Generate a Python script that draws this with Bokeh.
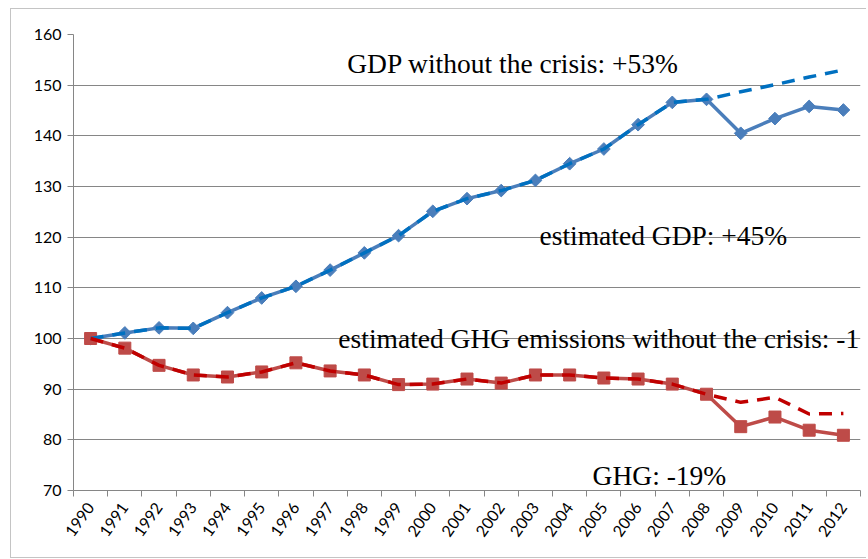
import math
from bokeh.plotting import figure
from bokeh.models import Range1d, FixedTicker, ColumnDataSource
from bokeh.core.properties import value
from bokeh.embed import file_html
from bokeh.resources import INLINE

# ---------------- data ----------------
years = [1990, 1991, 1992, 1993, 1994, 1995, 1996, 1997, 1998, 1999, 2000, 2001,
         2002, 2003, 2004, 2005, 2006, 2007, 2008, 2009, 2010, 2011, 2012]
year_labels = ["1990", "1991", "1992", "1993", "1994", "1995", "1996", "1997",
               "1998", "1999", "2000", "2001", "2002", "2003", "2004", "2005",
               "2006", "2007", "2008", "2009", "2010", "2011", "2012"]
gdp = [100.0, 101.1, 102.1, 102.0, 105.1, 108.0, 110.3, 113.5, 116.9, 120.3,
       125.1, 127.6, 129.2, 131.2, 134.5, 137.4, 142.2, 146.6, 147.2, 140.5,
       143.4, 145.8, 145.1]
gdp_no_crisis = [100.0, 101.1, 102.1, 102.0, 105.1, 108.0, 110.3, 113.5, 116.9,
                 120.3, 125.1, 127.6, 129.2, 131.2, 134.5, 137.4, 142.2, 146.6,
                 147.2, 148.7, 150.1, 151.6, 153.0]
ghg = [100.0, 98.1, 94.7, 92.8, 92.4, 93.4, 95.2, 93.6, 92.8, 90.9, 91.0, 92.0,
       91.2, 92.8, 92.8, 92.2, 92.0, 91.0, 89.0, 82.6, 84.5, 81.9, 80.9]
ghg_no_crisis = [100.0, 98.1, 94.7, 92.8, 92.4, 93.4, 95.2, 93.6, 92.8, 90.9,
                 91.0, 92.0, 91.2, 92.8, 92.8, 92.2, 92.0, 91.0, 89.0, 87.4,
                 88.4, 85.1, 85.2]
y_ticks = [70, 80, 90, 100, 110, 120, 130, 140, 150, 160]

# annotation texts as visible in the chart (anchor = left end of baseline)
note_texts = ["GDP without the crisis: +53%",
              "estimated GDP: +45%",
              "estimated GHG emissions without the crisis: -1",
              "GHG: -19%"]
note_x = [1997.5, 2003.12, 1997.24, 2004.67]
note_y = [154.3, 120.3, 100.0, 72.97]

# ---------------- figure ----------------
GRID = "#868686"
p = figure(frame_width=787, frame_height=456,
           min_border_left=62, min_border_right=6,
           min_border_top=25, min_border_bottom=67,
           x_range=Range1d(years[0] - 0.5, years[-1] + 0.5),
           y_range=Range1d(y_ticks[0], y_ticks[-1]),
           output_backend="svg", toolbar_location=None,
           background_fill_color="white", border_fill_color="white")
p.styles = {"margin-left": "10px", "margin-top": "8px",
            "border-left": "1px solid #c4c4c4",
            "border-top": "1px solid #c4c4c4",
            "border-bottom": "1px solid #c4c4c4"}
p.outline_line_color = None
p.xgrid.grid_line_color = None
p.ygrid.grid_line_color = GRID
p.ygrid.grid_line_width = 1

# x axis: labels at category centres, tick marks between categories
xt = FixedTicker(ticks=years, minor_ticks=[y - 0.5 for y in years] + [years[-1] + 0.5])
p.xaxis.ticker = xt
p.xaxis.major_label_overrides = {y: s for y, s in zip(years, year_labels)}
p.xaxis.major_label_orientation = 0.95
p.xaxis.major_tick_out = 0
p.xaxis.major_tick_in = 0
p.xaxis.minor_tick_out = 6
p.xaxis.minor_tick_in = 0
p.xaxis.minor_tick_line_color = GRID
p.xaxis.axis_line_color = GRID
p.xaxis.major_label_text_font = "Lato"
p.xaxis.major_label_text_font_size = "16px"
p.xaxis.major_label_text_color = "black"
p.xaxis.major_label_standoff = 8

p.yaxis.ticker = FixedTicker(ticks=y_ticks)
p.yaxis.major_tick_out = 6
p.yaxis.major_tick_in = 0
p.yaxis.minor_tick_out = 0
p.yaxis.minor_tick_in = 0
p.yaxis.major_tick_line_color = GRID
p.yaxis.axis_line_color = GRID
p.yaxis.major_label_text_font = "Lato"
p.yaxis.major_label_text_font_size = "16px"
p.yaxis.major_label_text_color = "black"
p.yaxis.major_label_standoff = 6

src = ColumnDataSource(dict(x=years, gdp=gdp, gdp_nc=gdp_no_crisis,
                            ghg=ghg, ghg_nc=ghg_no_crisis))

# actual series (solid + markers)
p.line("x", "gdp", source=src, line_color="#4A7EBB", line_width=3.5)
p.scatter("x", "gdp", source=src, marker="square", angle=math.pi / 4, size=9,
          fill_color="#4A7EBB", line_color="#4A7EBB")
p.line("x", "ghg", source=src, line_color="#BE4B48", line_width=3.5)
p.scatter("x", "ghg", source=src, marker="square", size=12,
          fill_color="#BE4B48", line_color="#BE4B48")

# "without the crisis" series (dashed, on top)
p.line("x", "gdp_nc", source=src, line_color="#0070C0", line_width=3.5,
       line_dash="13 9")
p.line("x", "ghg_nc", source=src, line_color="#C00000", line_width=3.5,
       line_dash="13 9")

# text notes
p.text(x=note_x, y=note_y, text=note_texts,
       text_font=value("Liberation Serif"), text_font_size="27.5px",
       text_color="black", text_align="left", text_baseline="alphabetic")

open("out.html", "w").write(file_html(p, INLINE))
